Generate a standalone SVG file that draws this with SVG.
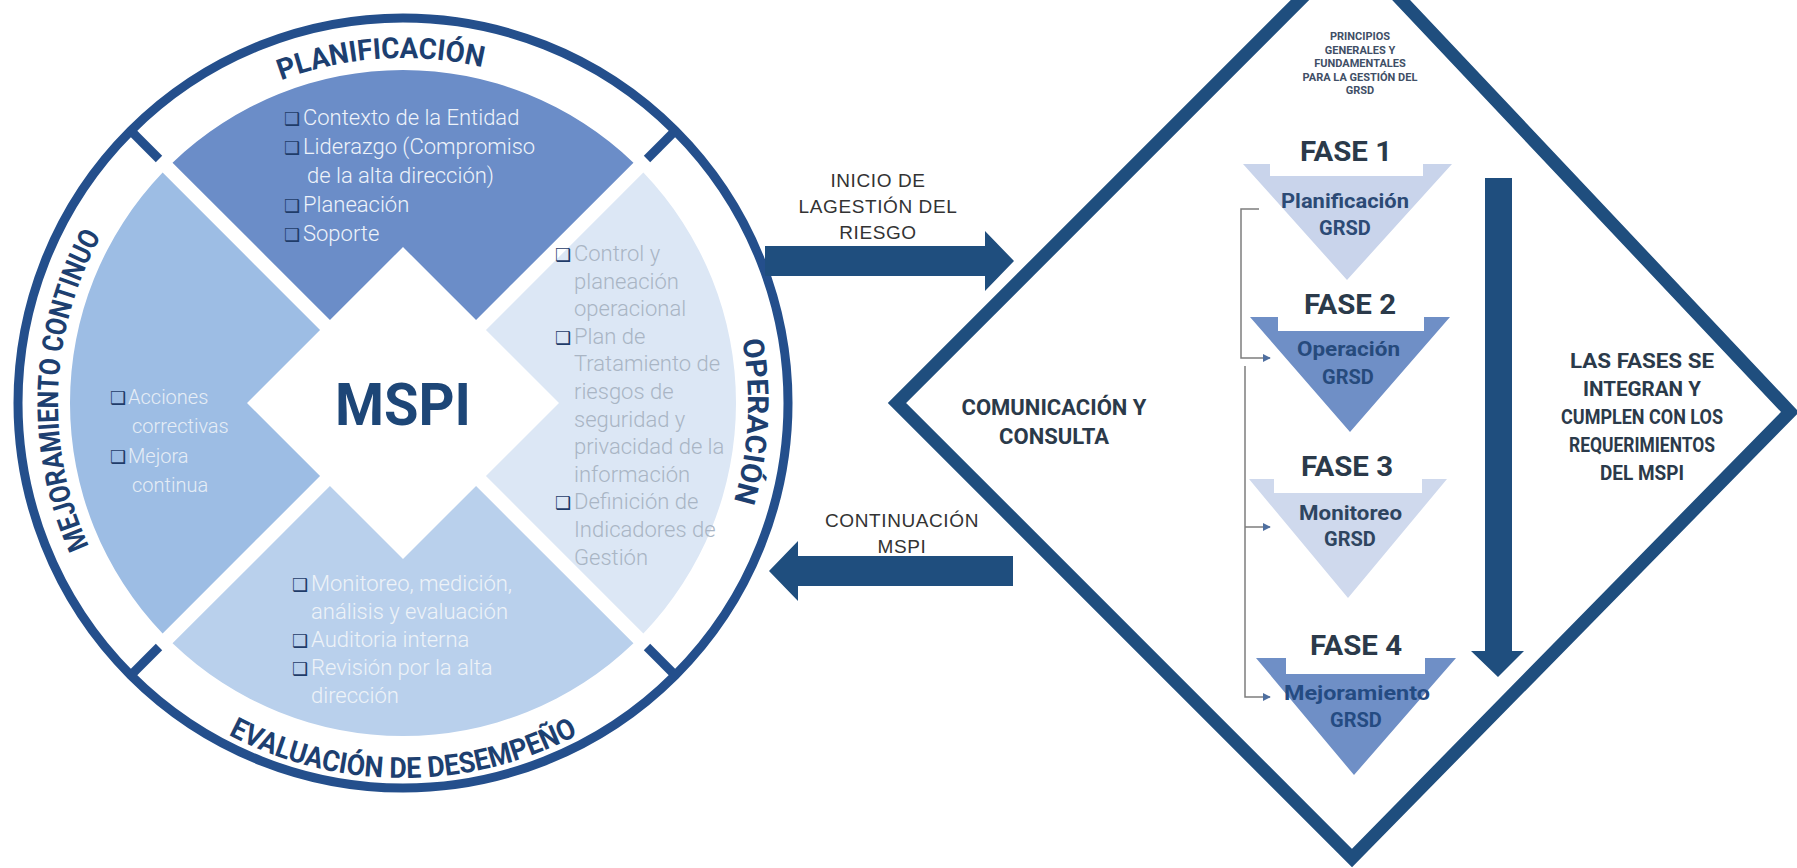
<svg xmlns="http://www.w3.org/2000/svg" width="1797" height="868" viewBox="0 0 1797 868">
<style>
.ring{fill:none;stroke:#244f8c;stroke-width:9}
.tick{stroke:#244f8c;stroke-width:9}
.arc{font-family:Roboto,"Noto Sans",sans-serif;font-weight:700;fill:#1d3f70;font-size:29px}
.st{font-family:Roboto,"Liberation Sans",sans-serif;font-weight:300;font-size:22px}
.sl{font-size:20px}
.cb{font-family:"DejaVu Sans",sans-serif;font-size:18px;fill:#1f3c69;font-weight:400}
.wt{fill:#eef3fa}
.lt{fill:#e6edf6}
.bt{fill:#eef3f8}
.rt{fill:#a9b5c4}
.big{fill:#1f4e7e}
.lbl{font-family:"Liberation Sans",Arial,sans-serif;font-size:19px;fill:#333;text-anchor:middle;letter-spacing:0.6px}
.bold{font-family:Roboto,"Noto Sans",sans-serif;font-weight:700}
.mid{text-anchor:middle}
.fase{font-size:28px;fill:#2b3a4a}
.ph{font-size:20px}
.conn{fill:none;stroke:#7d7d7d;stroke-width:1.5}
</style>
<defs>
<path id="cw" d="M403,748 A345,345 0 1 1 403,58 A345,345 0 1 1 403,748"/>
<path id="ccw" d="M28,403 A375,375 0 1 0 778,403 A375,375 0 1 0 28,403"/>
<marker id="ah" viewBox="0 0 10 10" refX="9" refY="5" markerWidth="8" markerHeight="8" markerUnits="userSpaceOnUse" orient="auto">
<path d="M0,0 L10,5 L0,10 Z" fill="#4f6fa0"/>
</marker>
</defs>

<g id="mspi-circle">
<path id="sector-top" d="M172.53,162.63 A333,333 0 0 1 633.47,162.63 L476.05,320.05 L403,247 L329.95,320.05 Z" fill="#6b8dc8"/>
<path id="sector-right" d="M643.37,172.53 A333,333 0 0 1 643.37,633.47 L485.95,476.05 L559,403 L485.95,329.95 Z" fill="#dce7f5"/>
<path id="sector-bottom" d="M633.47,643.37 A333,333 0 0 1 172.53,643.37 L329.95,485.95 L403,559 L476.05,485.95 Z" fill="#b9d0ec"/>
<path id="sector-left" d="M162.63,633.47 A333,333 0 0 1 162.63,172.53 L320.05,329.95 L247,403 L320.05,476.05 Z" fill="#9dbde4"/>
<circle class="ring" cx="403" cy="403" r="385"/>
<line class="tick" x1="159" y1="159" x2="130.8" y2="130.8"/>
<line class="tick" x1="647" y1="159" x2="675.2" y2="130.8"/>
<line class="tick" x1="159" y1="647" x2="130.8" y2="675.2"/>
<line class="tick" x1="647" y1="647" x2="675.2" y2="675.2"/>
</g>

<g id="label-planificacion">
<text class="arc"><textPath href="#cw" startOffset="1061.2" text-anchor="middle" textLength="205" lengthAdjust="spacingAndGlyphs">PLANIFICACIÓN</textPath></text>
</g>
<g id="label-operacion">
<text class="arc"><textPath href="#cw" startOffset="1643.2" text-anchor="middle" textLength="163" lengthAdjust="spacingAndGlyphs">OPERACIÓN</textPath></text>
</g>
<g id="label-mejoramiento">
<text class="arc"><textPath href="#cw" startOffset="555.1" text-anchor="middle" textLength="322" lengthAdjust="spacingAndGlyphs">MEJORAMIENTO CONTINUO</textPath></text>
</g>
<g id="label-evaluacion">
<text class="arc"><textPath href="#ccw" startOffset="589" text-anchor="middle" textLength="364" lengthAdjust="spacingAndGlyphs">EVALUACIÓN DE DESEMPEÑO</textPath></text>
</g>

<g id="text-planificacion">
<text class="st wt" x="284" y="125"><tspan class="cb">❑</tspan><tspan x="303">Contexto de la Entidad</tspan></text>
<text class="st wt" x="284" y="154"><tspan class="cb">❑</tspan><tspan x="303">Liderazgo (Compromiso</tspan></text>
<text class="st wt" x="307" y="183">de la alta dirección)</text>
<text class="st wt" x="284" y="212"><tspan class="cb">❑</tspan><tspan x="303">Planeación</tspan></text>
<text class="st wt" x="284" y="241"><tspan class="cb">❑</tspan><tspan x="303">Soporte</tspan></text>
</g>

<g id="text-mejoramiento">
<text class="st sl lt" x="110" y="404"><tspan class="cb">❑</tspan><tspan x="128">Acciones</tspan></text>
<text class="st sl lt" x="132" y="433">correctivas</text>
<text class="st sl lt" x="110" y="463"><tspan class="cb">❑</tspan><tspan x="128">Mejora</tspan></text>
<text class="st sl lt" x="132" y="492">continua</text>
</g>

<g id="text-operacion">
<text class="st rt" x="555" y="261"><tspan class="cb">❑</tspan><tspan x="574">Control y</tspan></text>
<text class="st rt" x="574" y="288.6">planeación</text>
<text class="st rt" x="574" y="316.2">operacional</text>
<text class="st rt" x="555" y="343.8"><tspan class="cb">❑</tspan><tspan x="574">Plan de</tspan></text>
<text class="st rt" x="574" y="371.4">Tratamiento de</text>
<text class="st rt" x="574" y="399">riesgos de</text>
<text class="st rt" x="574" y="426.6">seguridad y</text>
<text class="st rt" x="574" y="454.2">privacidad de la</text>
<text class="st rt" x="574" y="481.8">información</text>
<text class="st rt" x="555" y="509.4"><tspan class="cb">❑</tspan><tspan x="574">Definición de</tspan></text>
<text class="st rt" x="574" y="537">Indicadores de</text>
<text class="st rt" x="574" y="564.6">Gestión</text>
</g>

<g id="text-evaluacion">
<text class="st bt" x="292" y="591"><tspan class="cb">❑</tspan><tspan x="311">Monitoreo, medición,</tspan></text>
<text class="st bt" x="311" y="619">análisis y evaluación</text>
<text class="st bt" x="292" y="647"><tspan class="cb">❑</tspan><tspan x="311">Auditoria  interna</tspan></text>
<text class="st bt" x="292" y="675"><tspan class="cb">❑</tspan><tspan x="311">Revisión por la alta</tspan></text>
<text class="st bt" x="311" y="703">dirección</text>
</g>

<g id="mspi-center">
<text class="bold" x="335" y="425" font-size="60" fill="#1d4677" textLength="136" lengthAdjust="spacingAndGlyphs">MSPI</text>
</g>

<g id="grsd-diamond">
<polygon points="1352,-52 1790,412 1352,858 897,403" fill="none" stroke="#1f4e7e" stroke-width="13"/>
</g>

<g id="principios">
<text class="bold mid" font-size="11" fill="#3f4f66"><tspan x="1360" y="40">PRINCIPIOS</tspan><tspan x="1360" y="53.5">GENERALES Y</tspan><tspan x="1360" y="67">FUNDAMENTALES</tspan><tspan x="1360" y="80.5">PARA LA GESTIÓN DEL</tspan><tspan x="1360" y="94">GRSD</tspan></text>
</g>

<g id="comunicacion">
<text class="bold mid" font-size="22" fill="#2b3a4a"><tspan x="1054" y="415">COMUNICACIÓN Y</tspan><tspan x="1054" y="444">CONSULTA</tspan></text>
</g>

<g id="fase1">
<text class="bold fase" x="1300" y="161" textLength="92" lengthAdjust="spacingAndGlyphs">FASE 1</text>
<path d="M1243,164 L1270,164 L1270,176 L1423,176 L1423,164 L1452,164 L1347,280 Z" fill="#c9d4eb"/>
<text class="bold ph" fill="#2c4a75"><tspan x="1281" y="208" textLength="128" lengthAdjust="spacingAndGlyphs">Planificación</tspan><tspan class="mid" x="1345" y="235">GRSD</tspan></text>
</g>
<g id="fase2">
<text class="bold fase" x="1304" y="314" textLength="92" lengthAdjust="spacingAndGlyphs">FASE 2</text>
<path d="M1250,317 L1278,317 L1278,331 L1424,331 L1424,317 L1450,317 L1350,432 Z" fill="#6f8fc6"/>
<text class="bold ph" fill="#264a7c"><tspan x="1297" y="356" textLength="103" lengthAdjust="spacingAndGlyphs">Operación</tspan><tspan class="mid" x="1348" y="384">GRSD</tspan></text>
</g>
<g id="fase3">
<text class="bold fase" x="1301" y="476" textLength="92" lengthAdjust="spacingAndGlyphs">FASE 3</text>
<path d="M1249,479 L1274,479 L1274,493 L1422,493 L1422,479 L1447,479 L1348,598 Z" fill="#cfd9ed"/>
<text class="bold ph" fill="#2e4560"><tspan x="1299" y="520" textLength="103" lengthAdjust="spacingAndGlyphs">Monitoreo</tspan><tspan class="mid" x="1350" y="546">GRSD</tspan></text>
</g>
<g id="fase4">
<text class="bold fase" x="1310" y="655" textLength="92" lengthAdjust="spacingAndGlyphs">FASE 4</text>
<path d="M1256,658 L1286,658 L1286,674 L1425,674 L1425,658 L1456,658 L1354,775 Z" fill="#6f8fc6"/>
<text class="bold ph" fill="#244b82"><tspan x="1284" y="700" textLength="146" lengthAdjust="spacingAndGlyphs">Mejoramiento</tspan><tspan class="mid" x="1356" y="727">GRSD</tspan></text>
</g>

<g id="integran">
<text class="bold" font-size="21" fill="#2b3a4a"><tspan x="1570" y="368" textLength="144" lengthAdjust="spacingAndGlyphs">LAS FASES SE</tspan><tspan x="1583" y="396" textLength="118" lengthAdjust="spacingAndGlyphs">INTEGRAN Y</tspan><tspan x="1561" y="424" textLength="162" lengthAdjust="spacingAndGlyphs">CUMPLEN CON LOS</tspan><tspan x="1569" y="452" textLength="146" lengthAdjust="spacingAndGlyphs">REQUERIMIENTOS</tspan><tspan x="1600" y="480" textLength="84" lengthAdjust="spacingAndGlyphs">DEL MSPI</tspan></text>
</g>

<g id="label-inicio">
<text class="lbl"><tspan x="878" y="187">INICIO DE</tspan><tspan x="878" y="213">LAGESTIÓN DEL</tspan><tspan x="878" y="239">RIESGO</tspan></text>
</g>
<g id="label-continuacion">
<text class="lbl"><tspan x="902" y="527">CONTINUACIÓN</tspan><tspan x="902" y="553">MSPI</tspan></text>
</g>

<g id="connectors">
<polygon class="big" points="765,246 985,246 985,231 1014,261 985,291 985,276 765,276"/>
<polygon class="big" points="1013,556 798,556 798,541 769,571 798,601 798,586 1013,586"/>
<polygon class="big" points="1485,178 1512,178 1512,651 1524,651 1498,677 1471,651 1485,651"/>
<path class="conn" d="M1259,209 H1241 V358 H1270" marker-end="url(#ah)"/>
<path class="conn" d="M1245,366 V697 H1270" marker-end="url(#ah)"/>
<path class="conn" d="M1245,527 H1270" marker-end="url(#ah)"/>
</g>
</svg>
